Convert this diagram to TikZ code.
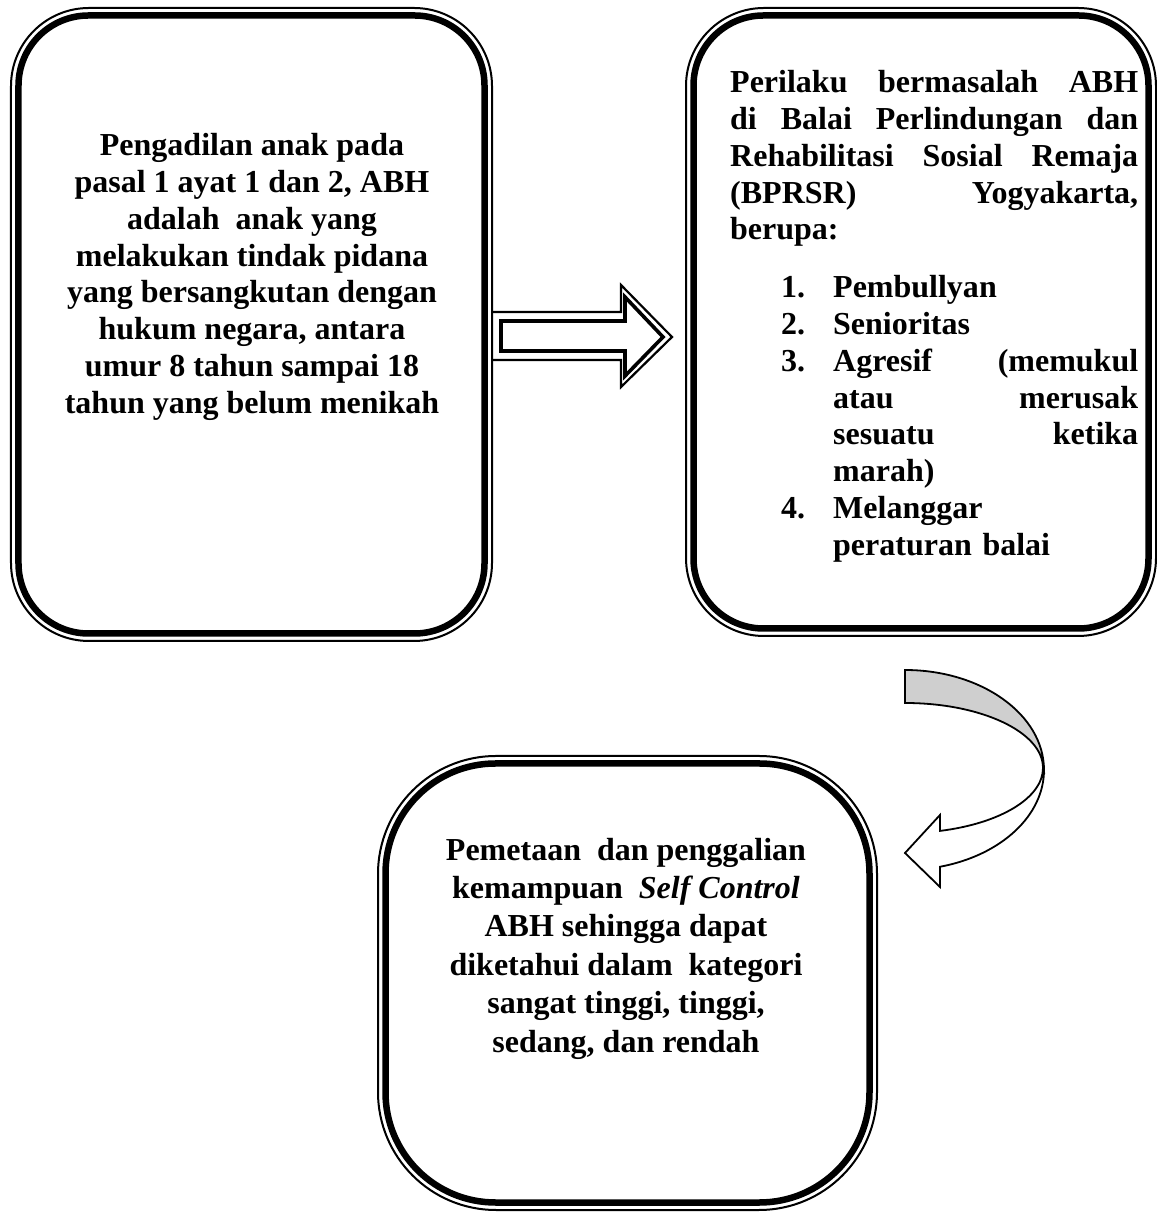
\documentclass[tikz,border=0pt]{standalone}
\usepackage{fontspec}
\setmainfont{Liberation Serif}
\definecolor{bandgray}{RGB}{207,207,207}
\begin{document}
\begin{tikzpicture}[x=1bp,y=1bp,
  outerline/.style={draw, line width=2bp, inner sep=0pt, outer sep=0pt},
  innerline/.style={draw, line width=6.5bp, inner sep=0pt, outer sep=0pt},
  boxtext/.style={font=\bfseries\fontsize{32bp}{36.8bp}\selectfont, inner sep=0pt, align=center},
  widetext/.style={font=\bfseries\fontsize{32bp}{38.4bp}\selectfont, inner sep=0pt, align=center},
  arrowthin/.style={line width=2.2bp, line join=miter},
  arrowthick/.style={line width=3.6bp, line join=miter},
  curvearrow/.style={line width=1.8bp, line join=miter}]
\useasboundingbox (0,0) rectangle (1157,1213);

% box 1
\node[outerline, rounded corners=78bp, minimum width=481bp, minimum height=633bp] (b1) at (251.5,888.5) {};
\node[innerline, rounded corners=70bp, minimum width=466bp, minimum height=618bp] (b1i) at (b1.center) {};
% box 2
\node[outerline, rounded corners=78bp, minimum width=470bp, minimum height=628bp] (b2) at (921,891) {};
\node[innerline, rounded corners=70bp, minimum width=455bp, minimum height=613bp] (b2i) at (b2.center) {};
% box 3
\node[outerline, rounded corners=118bp, minimum width=499bp, minimum height=454bp] (b3) at (627.5,230) {};
\node[innerline, rounded corners=110bp, minimum width=484bp, minimum height=439bp] (b3i) at (b3.center) {};

% straight block arrow
\draw[arrowthin] (b1.east |- 0,901) -- (621,901) -- (621,928) -- (672,876) -- (621,826) -- (621,853) -- (b1.east |- 0,853);
\draw[arrowthick] (501,892) -- (625,892) -- (625,916) -- (663,876) -- (625,837) -- (625,862) -- (501,862) -- cycle;

% curved arrow
\filldraw[curvearrow, fill=bandgray] (905,543) arc[start angle=90, end angle=0, x radius=139, y radius=100]
  -- (1043,445) arc[start angle=0, end angle=90, x radius=138, y radius=65] -- cycle;
\filldraw[curvearrow, fill=white] (1044,443) arc[start angle=0, end angle=-75.4, x radius=139, y radius=100]
  -- (940,326) -- (905,360) -- (940,398) -- (940,382.1)
  arc[start angle=-75.3, end angle=0, x radius=138, y radius=65] -- cycle;

% texts
\node[boxtext] (t1) at (252,936) {Pengadilan anak pada\\
pasal 1 ayat 1 dan 2, ABH\\
adalah\ \ anak yang\\
melakukan tindak pidana\\
yang bersangkutan dengan\\
hukum negara, antara\\
umur 8 tahun sampai 18\\
tahun yang belum menikah};

\node[boxtext, align=left, text width=408bp, anchor=north west] (t2) at (730,1142.7) {\noindent
\makebox[408bp][l]{Perilaku\hfill bermasalah\hfill ABH}\\
\makebox[408bp][l]{di\hfill Balai\hfill Perlindungan\hfill dan}\\
\makebox[408bp][l]{Rehabilitasi\hfill Sosial\hfill Remaja}\\
\makebox[408bp][l]{(BPRSR)\hfill Yogyakarta,}\\
berupa:\\[21bp]
\hspace*{51bp}\makebox[52bp][l]{1.}Pembullyan\\
\hspace*{51bp}\makebox[52bp][l]{2.}Senioritas\\
\hspace*{51bp}\makebox[52bp][l]{3.}\makebox[305bp][l]{Agresif\hfill (memukul}\\
\hspace*{103bp}\makebox[305bp][l]{atau\hfill merusak}\\
\hspace*{103bp}\makebox[305bp][l]{sesuatu\hfill ketika}\\
\hspace*{103bp}marah)\\
\hspace*{51bp}\makebox[52bp][l]{4.}Melanggar\\
\hspace*{103bp}peraturan balai};

\node[widetext] (t3) at (626,264.5) {Pemetaan\ \ dan penggalian\\
kemampuan\ \ \textit{Self Control}\\
ABH sehingga dapat\\
diketahui dalam\ \ kategori\\
sangat tinggi, tinggi,\\
sedang, dan rendah};
\end{tikzpicture}
\end{document}
